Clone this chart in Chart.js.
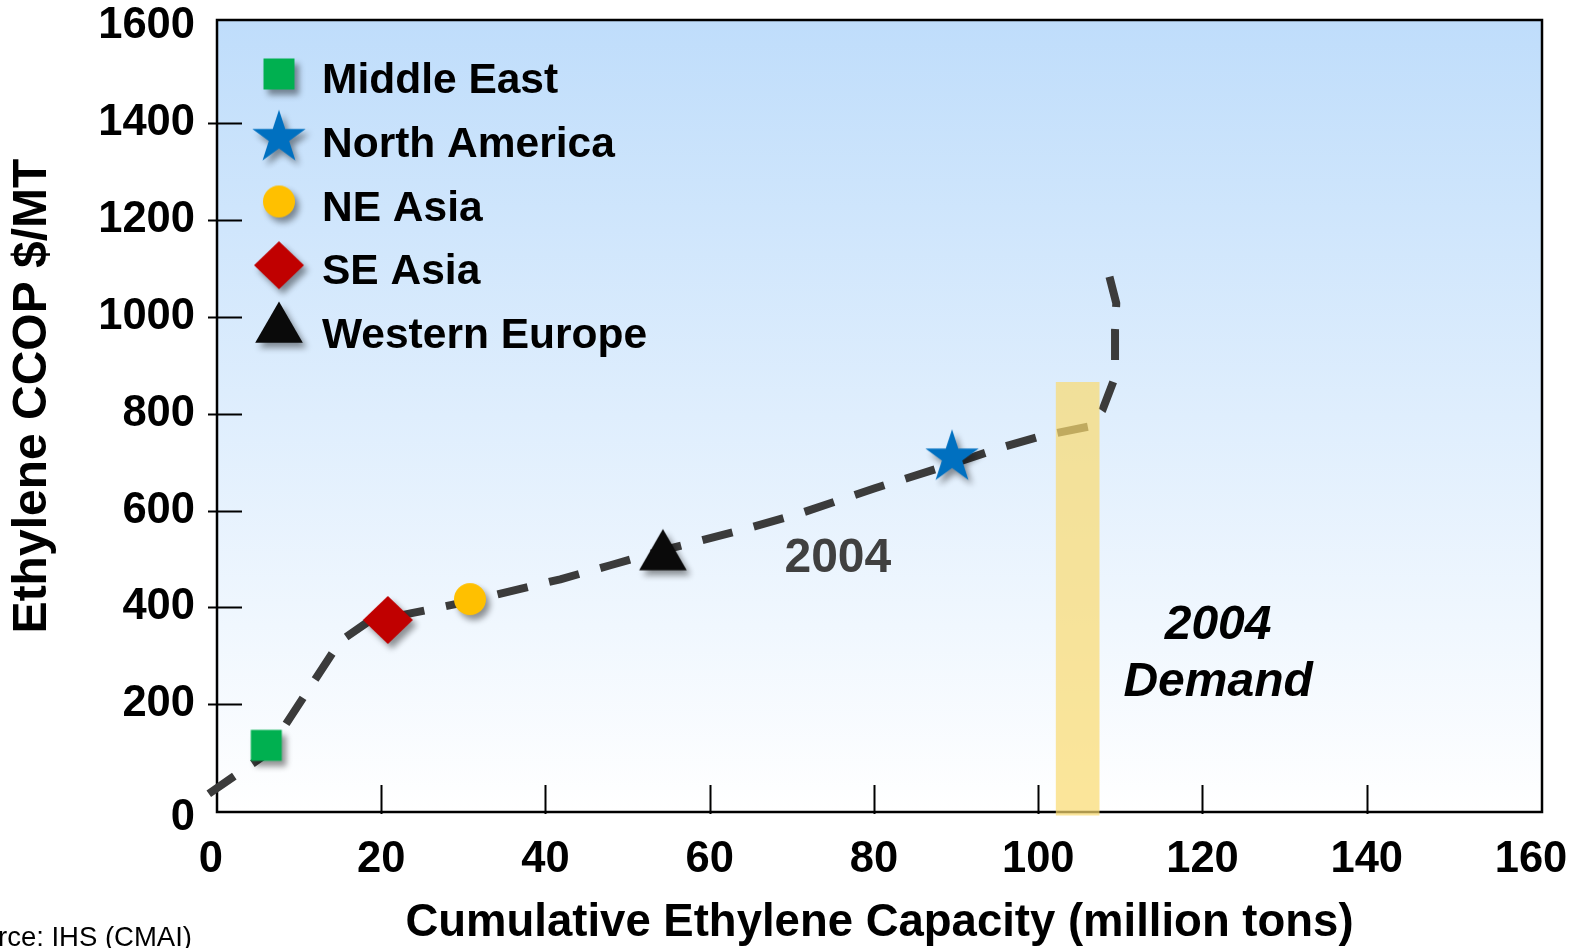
<!DOCTYPE html>
<html>
<head>
<meta charset="utf-8">
<title>Ethylene cost curve</title>
<script src="https://cdn.jsdelivr.net/npm/chart.js@4.4.1/dist/chart.umd.min.js"></script>
<style>
  html, body { margin: 0; padding: 0; background: #ffffff; }
  #wrap { width: 1581px; height: 948px; position: relative; overflow: hidden; }
</style>
</head>
<body>
<div id="wrap"><canvas id="chart" width="1581" height="948"></canvas></div>
<script>
const FONT = "'Liberation Sans', Arial, Helvetica, sans-serif";

// Regional producers: cumulative capacity (million tons) and cash cost ($/MT)
const regions = ['Middle East', 'North America', 'NE Asia', 'SE Asia', 'Western Europe'];
const regionCapacity = [6, 89.5, 30.8, 20.8, 54.3];
const regionCost = [115, 710, 417, 374, 505];
const regionColors = ['#00B050', '#0070C0', '#FFC000', '#C00000', '#0A0A0A'];
const regionShapes = ['square', 'star', 'circle', 'diamond', 'triangle'];

// 2004 industry cost curve
const curveCapacity = [-1, 6, 15, 18.3, 23.7, 27.2, 30.8, 41.8, 47.9, 54.3, 63.7, 71, 80.1, 89.5, 95.3, 100.2, 106.3, 106.7, 107.8, 109.2, 109.35, 109.35, 109.5, 108.5];
const curveCost     = [15, 97, 330, 369, 388, 400, 413, 458, 487, 518, 559, 594, 646, 696, 729, 753, 774, 780, 807, 869, 910, 972, 1028, 1094];

// 2004 demand band (capacity range) and its vertical extent
const demandCapacity = [102.2, 107.4];
const demandCost = [-29, 865];

// Axis ticks
const xTickValues = [0, 20, 40, 60, 80, 100, 120, 140, 160];
const yTickValues = [0, 200, 400, 600, 800, 1000, 1200, 1400, 1600];

// Marker sprites with a soft drop shadow
function markerImage(shape, color) {
  const s = 86, c = s / 2;
  const cv = document.createElement('canvas');
  cv.width = s; cv.height = s;
  const g = cv.getContext('2d');
  g.shadowColor = 'rgba(0,0,0,0.42)';
  g.shadowBlur = 6;
  g.shadowOffsetX = 4;
  g.shadowOffsetY = 5;
  g.fillStyle = color;
  g.beginPath();
  if (shape === 'square') {
    g.rect(c - 15.5, c - 15.5, 31, 31);
  } else if (shape === 'circle') {
    g.arc(c, c, 16, 0, Math.PI * 2);
  } else if (shape === 'diamond') {
    g.moveTo(c, c - 24); g.lineTo(c + 25, c); g.lineTo(c, c + 24); g.lineTo(c - 25, c); g.closePath();
  } else if (shape === 'triangle') {
    const R = 27.5;
    for (let i = 0; i < 3; i++) {
      const a = -Math.PI / 2 + i * 2 * Math.PI / 3;
      const px = c + R * Math.cos(a), py = c + R * Math.sin(a);
      i ? g.lineTo(px, py) : g.moveTo(px, py);
    }
    g.closePath();
  } else if (shape === 'star') {
    const R = 28, r = 28 * 0.382;
    for (let i = 0; i < 10; i++) {
      const a = -Math.PI / 2 + i * Math.PI / 5;
      const rr = i % 2 ? r : R;
      const px = c + rr * Math.cos(a), py = c + rr * Math.sin(a);
      i ? g.lineTo(px, py) : g.moveTo(px, py);
    }
    g.closePath();
  }
  g.fill();
  return cv;
}
const markerImages = regions.map((_, i) => markerImage(regionShapes[i], regionColors[i]));

// Plot background, frame and tick marks
const framePlugin = {
  id: 'frame',
  beforeDatasetsDraw(chart) {
    const { ctx, chartArea: a, scales } = chart;
    ctx.save();
    const grad = ctx.createLinearGradient(0, a.top, 0, a.bottom);
    grad.addColorStop(0, '#BFDDFB');
    grad.addColorStop(1, '#FFFFFF');
    ctx.fillStyle = grad;
    ctx.fillRect(a.left, a.top, a.right - a.left, a.bottom - a.top);

    ctx.strokeStyle = '#000';
    ctx.lineWidth = 2;
    ctx.beginPath();
    scales.y.ticks.forEach((t, i, arr) => {
      if (i === 0 || i === arr.length - 1) return;
      const py = Math.round(scales.y.getPixelForValue(t.value)) + 0.5;
      ctx.moveTo(a.left - 9, py); ctx.lineTo(a.left + 25, py);
    });
    scales.x.ticks.forEach((t, i, arr) => {
      if (i === 0 || i === arr.length - 1) return;
      const px = Math.round(scales.x.getPixelForValue(t.value)) + 0.5;
      ctx.moveTo(px, a.bottom - 27); ctx.lineTo(px, a.bottom + 2);
    });
    ctx.stroke();

    ctx.lineWidth = 2.5;
    ctx.strokeRect(a.left, a.top, a.right - a.left, a.bottom - a.top);
    ctx.restore();
  }
};

// Legend inside the plot, axis title on the left, annotations and source note
const textPlugin = {
  id: 'texts',
  afterDraw(chart) {
    const { ctx, scales } = chart;
    ctx.save();

    // legend
    const rowTop = 78, rowStep = 63.75;
    ctx.font = 'bold 42.5px ' + FONT;
    ctx.fillStyle = '#000';
    ctx.textAlign = 'left';
    ctx.textBaseline = 'alphabetic';
    chart.data.datasets.forEach((ds) => {
      if (ds.legendIndex === undefined) return;
      const cy = rowTop + ds.legendIndex * rowStep;
      const img = ds.pointStyle;
      ctx.drawImage(img, 279 - img.width / 2, cy - 4 - img.height / 2);
      ctx.fillText(ds.label, 322, cy + 15.2);
    });

    // y axis title
    ctx.save();
    ctx.translate(33, 396);
    ctx.rotate(-Math.PI / 2);
    ctx.textAlign = 'center';
    ctx.textBaseline = 'middle';
    ctx.font = 'bold 48px ' + FONT;
    ctx.fillText('Ethylene CCOP $/MT', 0, 0);
    ctx.restore();

    // curve label
    ctx.textAlign = 'center';
    ctx.textBaseline = 'middle';
    ctx.font = 'bold 48px ' + FONT;
    ctx.fillStyle = '#404040';
    ctx.fillText('2004', scales.x.getPixelForValue(75.6), scales.y.getPixelForValue(501));

    // demand label
    ctx.font = 'italic bold 48px ' + FONT;
    ctx.fillStyle = '#000';
    ctx.fillText('2004', scales.x.getPixelForValue(121.9), scales.y.getPixelForValue(363));
    ctx.fillText('Demand', scales.x.getPixelForValue(121.9), scales.y.getPixelForValue(245));

    // source note
    ctx.font = '27.5px ' + FONT;
    ctx.textAlign = 'right';
    ctx.textBaseline = 'alphabetic';
    ctx.fillText('Source: IHS (CMAI)', 192, 946);

    ctx.restore();
  }
};

const regionDatasets = regions.map((name, i) => ({
  label: name,
  legendIndex: i,
  data: [{ x: regionCapacity[i], y: regionCost[i] }],
  pointStyle: markerImages[i],
  pointRadius: 25,
  pointHoverRadius: 25,
  order: 1,
  clip: false
}));

const demandDataset = {
  type: 'bar',
  label: '2004 Demand',
  data: [{ x: (demandCapacity[0] + demandCapacity[1]) / 2, y: demandCost }],
  barThickness: 43,
  grouped: false,
  backgroundColor: 'rgba(249,218,111,0.70)',
  borderWidth: 0,
  order: 2,
  clip: false
};

const curveDataset = {
  label: '2004',
  data: curveCapacity.map((x, i) => ({ x, y: curveCost[i] })),
  showLine: true,
  borderColor: '#3B3B3B',
  borderWidth: 8,
  borderDash: [31, 22],
  borderCapStyle: 'butt',
  borderJoinStyle: 'round',
  pointRadius: 0,
  pointHoverRadius: 0,
  tension: 0,
  order: 3,
  clip: false
};

const tickFont = { family: FONT, size: 43.5, weight: 'bold' };

new Chart(document.getElementById('chart'), {
  type: 'scatter',
  data: { datasets: [...regionDatasets, demandDataset, curveDataset] },
  options: {
    responsive: false,
    animation: false,
    events: [],
    layout: { autoPadding: false, padding: { left: 0, top: 20, right: 39, bottom: 0 } },
    plugins: { legend: { display: false }, tooltip: { enabled: false } },
    scales: {
      x: {
        type: 'linear',
        min: 0,
        max: 161.34,
        offset: false,
        afterBuildTicks: (s) => { s.ticks = xTickValues.map(v => ({ value: v })); },
        afterFit: (s) => { s.height = 136; s.paddingLeft = 0; s.paddingRight = 0; },
        grid: { display: false, drawTicks: false, offset: false },
        border: { display: false },
        ticks: {
          font: tickFont, color: '#000', padding: 22, maxRotation: 0, autoSkip: false,
          // the origin label sits a little toward the corner
          callback: v => (v === 0 ? '0 ' : String(v))
        },
        title: {
          display: true,
          text: 'Cumulative Ethylene Capacity (million tons)',
          color: '#000',
          font: { family: FONT, size: 45.5, weight: 'bold' },
          padding: { top: 0, bottom: -3 }
        }
      },
      y: {
        type: 'linear',
        min: -22.7,
        max: 1613.2,
        afterBuildTicks: (s) => { s.ticks = yTickValues.map(v => ({ value: v })); },
        afterFit: (s) => { s.width = 217; s.paddingTop = 0; s.paddingBottom = 0; },
        grid: { display: false, drawTicks: false },
        border: { display: false },
        ticks: {
          color: '#000', padding: 22, autoSkip: false,
          // the origin label is dropped slightly below its tick
          font: (c) => (c.tick && c.tick.value === 0 ? { ...tickFont, lineHeight: '34px' } : tickFont),
          callback: v => (v === 0 ? ['', '0'] : String(v))
        },
        title: { display: false }
      }
    }
  },
  plugins: [framePlugin, textPlugin]
});
</script>
</body>
</html>
